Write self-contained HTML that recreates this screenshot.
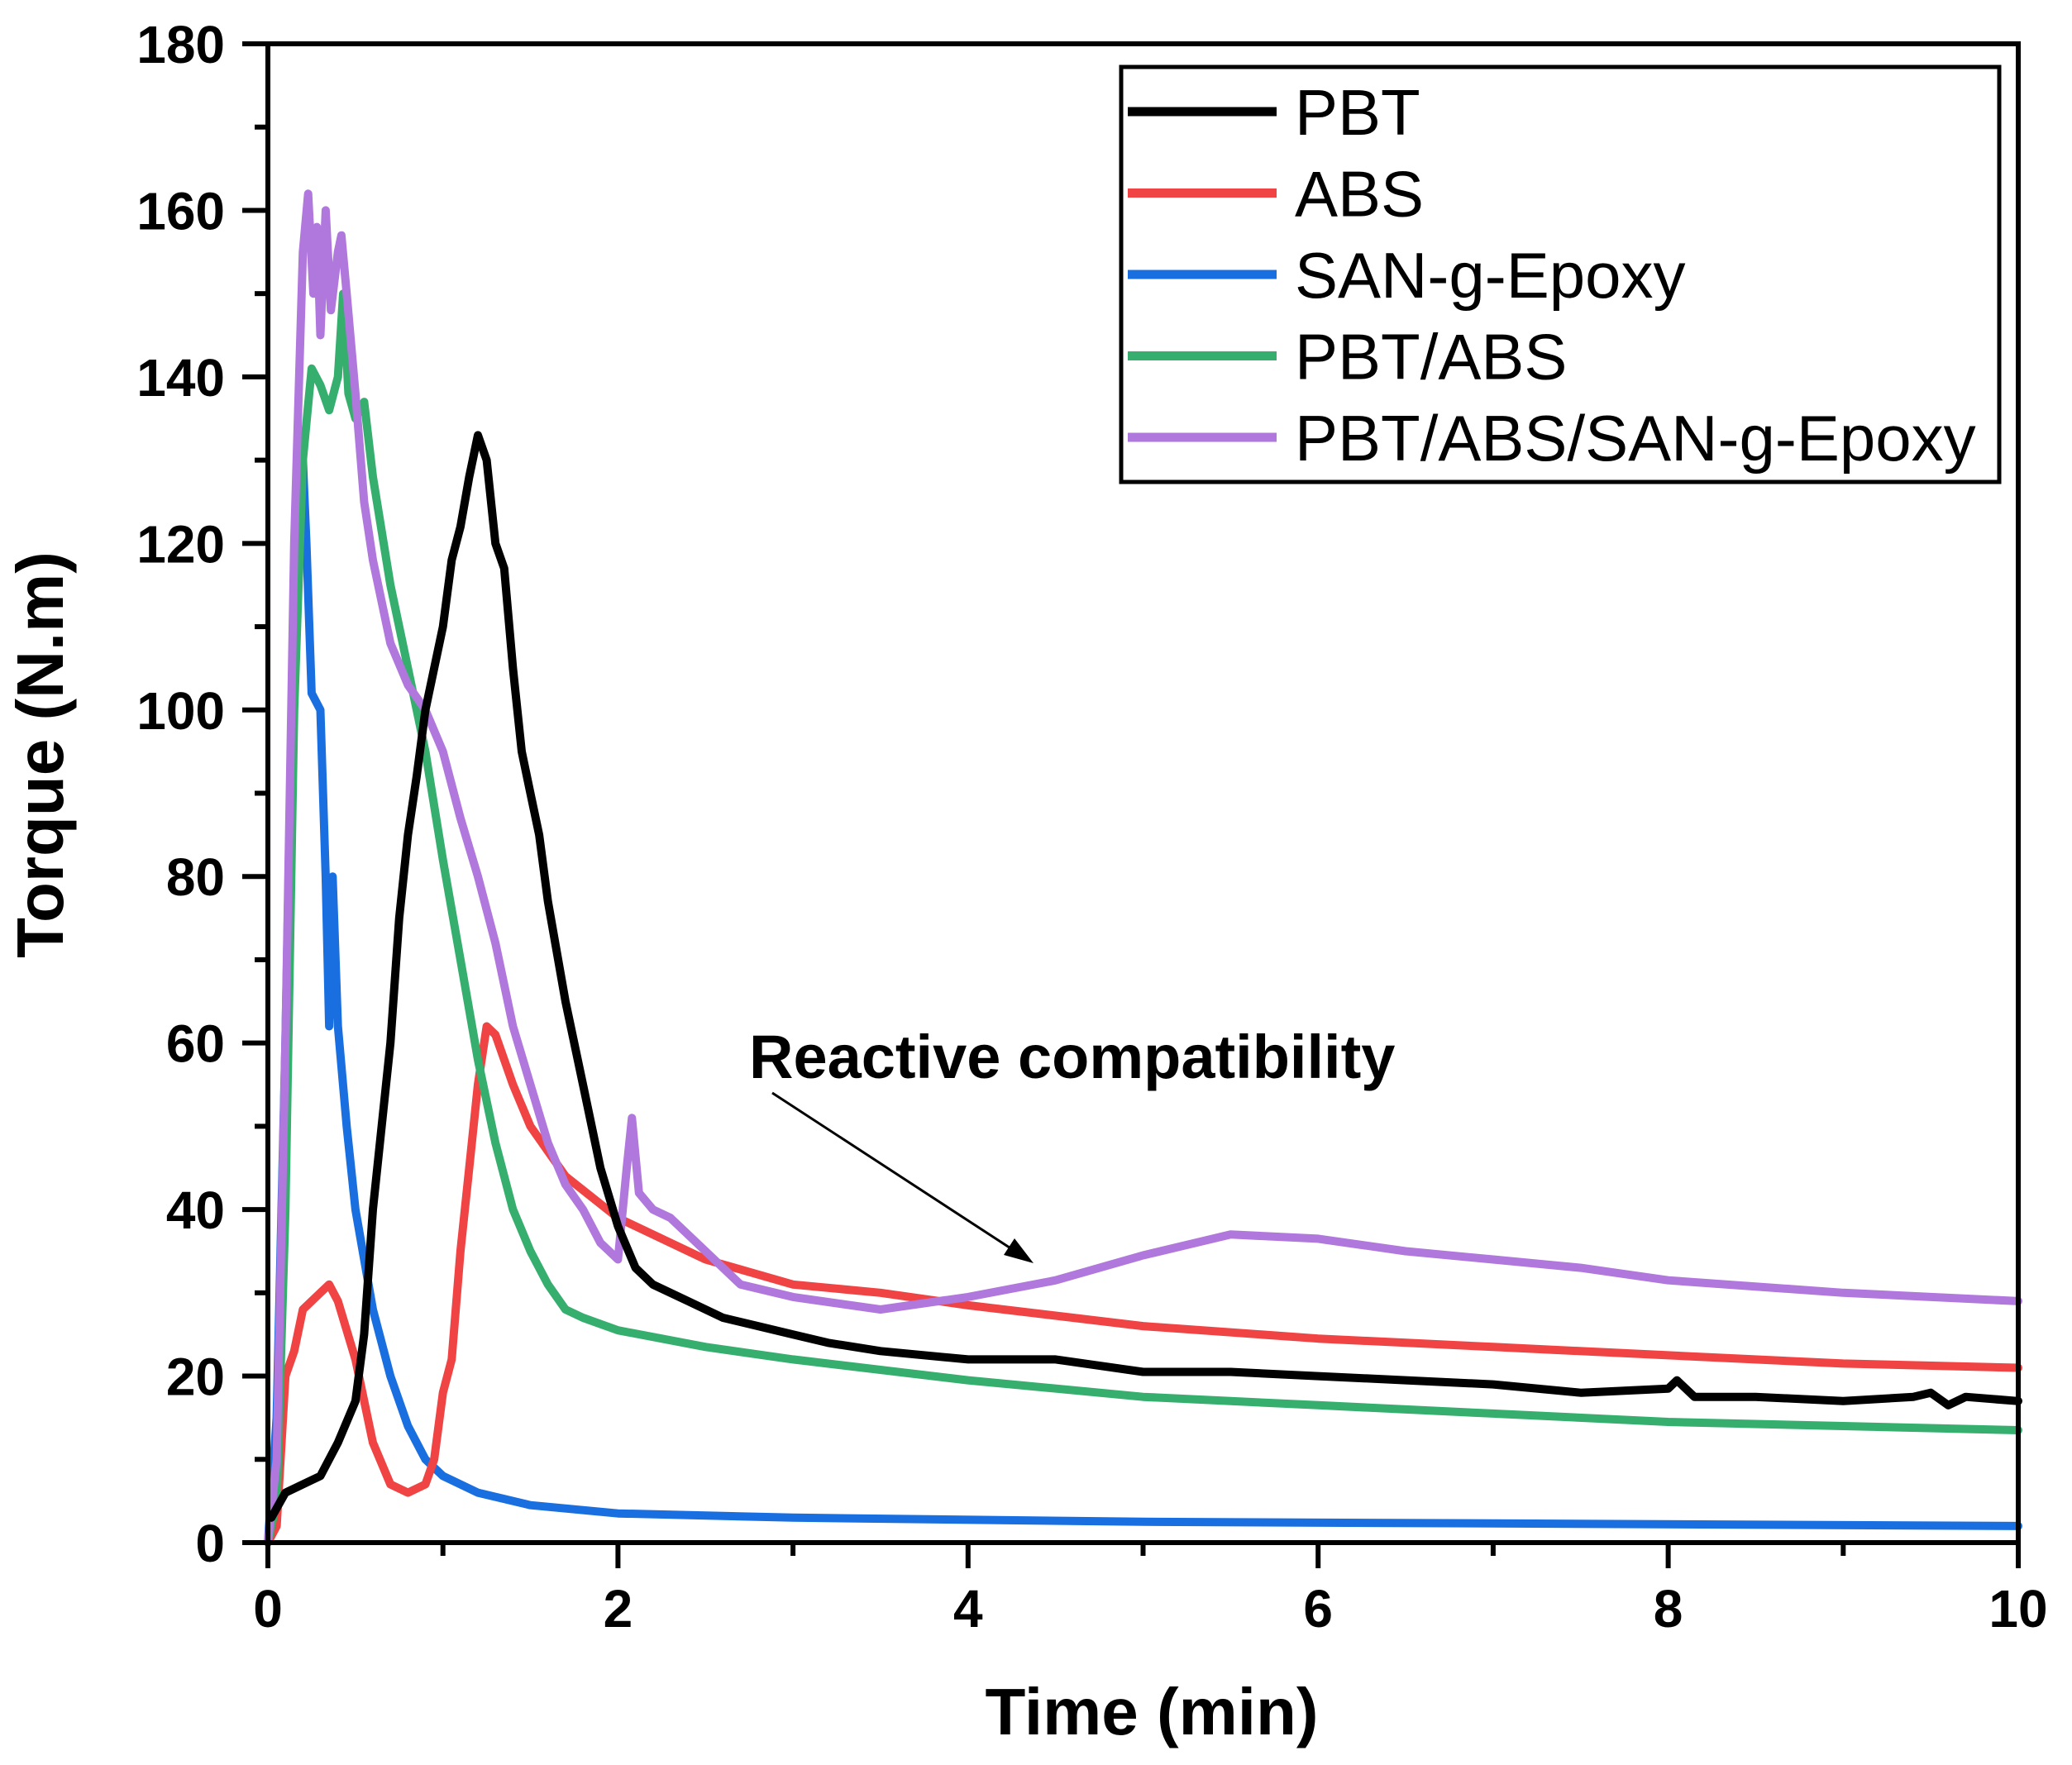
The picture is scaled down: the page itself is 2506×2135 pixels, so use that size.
<!DOCTYPE html>
<html><head><meta charset="utf-8"><style>
html,body{margin:0;padding:0;background:#fff;}
svg{display:block;font-family:"Liberation Sans",Arial,sans-serif;}
</style></head><body>
<svg id="chart" width="2506" height="2135" viewBox="0 0 2506 2135">
<g id="series"></g>
<g id="axes"></g>
<g id="legend">
<rect x="1356" y="81" width="1062" height="502" fill="#fff" stroke="#000" stroke-width="5"/>
</g>
<text x="906" y="1304" font-size="74" font-weight="bold">Reactive compatibility</text>
<line x1="934" y1="1322" x2="1230" y2="1515" stroke="#000" stroke-width="3"/>
<polygon points="1250,1528 1214,1518 1227,1498" fill="#000"/>
<text x="1393" y="2098" font-size="80" font-weight="bold" text-anchor="middle">Time (min)</text>
<text transform="translate(76,913) rotate(-90)" font-size="80" font-weight="bold" text-anchor="middle">Torque (N.m)</text>
</svg>
<script>
const xTicks=[0,2,4,6,8,10];
const yTicks=[0,20,40,60,80,100,120,140,160,180];
const seriesNames=["PBT","ABS","SAN-g-Epoxy","PBT/ABS","PBT/ABS/SAN-g-Epoxy"];
const pbtT=[0.02,0.1,0.2,0.3,0.4,0.5,0.55,0.6,0.65,0.7,0.75,0.8,0.85,0.9,0.95,1.0,1.05,1.1,1.15,1.2,1.25,1.3,1.35,1.4,1.45,1.5,1.55,1.6,1.7,1.8,1.9,2.0,2.1,2.2,2.4,2.6,2.8,3.0,3.2,3.5,4,4.5,5,5.5,6,6.5,7,7.5,8,8.05,8.15,8.5,9,9.4,9.5,9.6,9.7,10];
const pbtV=[3,6,7,8,12,17,25,40,50,60,75,85,92,100,105,110,118,122,128,133,130,120,117,105,95,90,85,77,65,55,45,38,33,31,29,27,26,25,24,23,22,22,20.5,20.5,20,19.5,19,18,18.5,19.5,17.5,17.5,17,17.5,18,16.5,17.5,17];
const absT=[0,0.05,0.1,0.15,0.2,0.3,0.35,0.4,0.5,0.6,0.7,0.8,0.9,0.95,1.0,1.05,1.1,1.15,1.2,1.25,1.3,1.4,1.5,1.7,2.0,2.5,3,3.5,4,5,6,7,8,9,10];
const absV=[0,2,20,23,28,30,31,29,22,12,7,6,7,10,18,22,35,45,55,62,61,55,50,44,39,34,31,30,28.5,26,24.5,23.5,22.5,21.5,21];
const sanT=[0,0.05,0.1,0.15,0.2,0.22,0.25,0.3,0.33,0.35,0.37,0.4,0.45,0.5,0.6,0.7,0.8,0.9,1.0,1.2,1.5,2,3,5,7,10];
const sanV=[0,15,60,115,130,120,102,100,80,62,80,62,50,40,28,20,14,10,8,6,4.5,3.5,3,2.5,2.3,2];
const blendT=[0,0.05,0.1,0.15,0.2,0.25,0.3,0.35,0.4,0.43,0.46,0.5,0.55,0.6,0.7,0.8,0.9,1.0,1.1,1.2,1.3,1.4,1.5,1.6,1.7,1.8,2.0,2.5,3,4,5,6,7,8,9,10];
const blendV=[0,5,40,100,130,141,139,136,140,150,138,135,137,128,115,105,95,82,70,58,48,40,35,31,28,27,25.5,23.5,22,19.5,17.5,16.5,15.5,14.5,14,13.5];
const compT=[0,0.05,0.1,0.15,0.2,0.23,0.26,0.28,0.3,0.33,0.36,0.4,0.42,0.45,0.5,0.55,0.6,0.7,0.8,0.9,1.0,1.1,1.2,1.3,1.4,1.5,1.6,1.7,1.8,1.9,2.0,2.05,2.08,2.12,2.2,2.3,2.5,2.7,3,3.5,4,4.5,5,5.5,6,6.5,7,7.5,8,9,10];
const compV=[0,10,60,120,155,162,150,158,145,160,148,155,157,150,138,125,118,108,103,100,95,87,80,72,62,55,48,43,40,36,34,45,51,42,40,39,35,31,29.5,28,29.5,31.5,34.5,37,36.5,35,34,33,31.5,30,29];

const X0=324,X1=2441,Y0=1866,Y1=53;
const xs=t=>X0+(t/10)*(X1-X0);
const ys=v=>Y0-(v/180)*(Y0-Y1);
const NS="http://www.w3.org/2000/svg";
function mk(tag,attrs,parent){const e=document.createElementNS(NS,tag);for(const k in attrs)e.setAttribute(k,attrs[k]);parent.appendChild(e);return e;}

const sg=document.getElementById('series');
const list=[[pbtT,pbtV,"#000000","pbt"],[absT,absV,"#f04343","abs"],[sanT,sanV,"#1a6fe0","san-g-epoxy"],[blendT,blendV,"#36ae6e","pbt-abs"],[compT,compV,"#b077dc","pbt-abs-san-g-epoxy"]];
const order=[2,1,3,4,0];
order.forEach(i=>{const s=list[i];
 const d=s[0].map((t,j)=>(j?'L':'M')+xs(t).toFixed(1)+','+ys(s[1][j]).toFixed(1)).join(' ');
 const p=mk('path',{d:d,fill:'none',stroke:s[2],'stroke-width':10,'stroke-linejoin':'round','stroke-linecap':'round'},sg);
 
 
});

const ax=document.getElementById('axes');
const frame=mk('rect',{x:X0,y:Y1,width:X1-X0,height:Y0-Y1,fill:'none',stroke:'#000','stroke-width':6},ax);


xTicks.forEach(t=>{
 const l=mk('line',{x1:xs(t),x2:xs(t),y1:Y0,y2:Y0+31,stroke:'#000','stroke-width':6},ax);
 
 
 const tx=mk('text',{x:xs(t),y:Y0+102,'font-size':64,'font-weight':'bold','text-anchor':'middle'},ax);
 tx.textContent=t;
 
 
});
for(let t=1;t<10;t+=2){
 const l=mk('line',{x1:xs(t),x2:xs(t),y1:Y0,y2:Y0+16,stroke:'#000','stroke-width':6},ax);
 
 
}
yTicks.forEach(v=>{
 const l=mk('line',{x1:X0-31,x2:X0,y1:ys(v),y2:ys(v),stroke:'#000','stroke-width':6},ax);
 
 
 const tx=mk('text',{x:X0-52,y:ys(v)+23,'font-size':64,'font-weight':'bold','text-anchor':'end'},ax);
 tx.textContent=v;
 
 
});
for(let v=10;v<180;v+=20){
 const l=mk('line',{x1:X0-16,x2:X0,y1:ys(v),y2:ys(v),stroke:'#000','stroke-width':6},ax);
 
 
}
const lg=document.getElementById('legend');
list.forEach((s,i)=>{
 const y=135+i*98.5;
 const l=mk('line',{x1:1364,x2:1544,y1:y,y2:y,stroke:s[2],'stroke-width':11},lg);
 
 
 const tx=mk('text',{x:1566,y:y+28,'font-size':78},lg);
 tx.textContent=seriesNames[i];
 
 
});
</script>
</body></html>
